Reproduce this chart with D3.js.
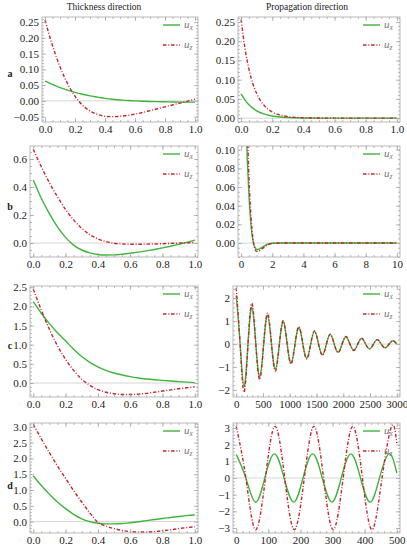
<!DOCTYPE html>
<html><head><meta charset="utf-8">
<script src="https://cdn.jsdelivr.net/npm/d3@7"></script>
<style>body{margin:0;background:#fff}</style>
</head><body>
<svg id="c" width="407" height="550"></svg>
<script>
// ---------------- DATA ----------------
const colTitles = ["Thickness direction", "Propagation direction"];
const rowLabels = ["a", "b", "c", "d"];
const seriesNames = ["x", "z"]; // u_x, u_z

const xThick = [0,0.05,0.1,0.15,0.2,0.25,0.3,0.35,0.4,0.45,0.5,0.55,0.6,0.65,0.7,0.75,0.8,0.85,0.9,0.95,1.0];

// row a
const aThickUx = [0.063,0.052,0.042,0.034,0.027,0.021,0.016,0.012,0.008,0.005,0.003,0.001,0.0,-0.001,-0.002,-0.0025,-0.003,-0.0035,-0.004,-0.004,-0.004];
const aThickUz = [0.257,0.175,0.108,0.055,0.015,-0.014,-0.032,-0.043,-0.049,-0.05,-0.049,-0.046,-0.042,-0.037,-0.031,-0.025,-0.019,-0.013,-0.007,-0.001,0.005];
const xPropA = [0,0.025,0.05,0.075,0.1,0.15,0.2,0.25,0.3,0.35,0.4,0.5,0.6,0.7,0.8,0.9,1.0];
const aPropUx = [0.063,0.047,0.035,0.026,0.019,0.0105,0.0057,0.0031,0.0017,0.0009,0.0005,0.0002,0,0,0,0,0];
const aPropUz = [0.257,0.181,0.128,0.09,0.064,0.032,0.016,0.008,0.004,0.002,0.001,0.0003,0.0001,0,0,0,0];

// row b
const bThickUx = [0.45,0.32,0.21,0.115,0.04,-0.015,-0.05,-0.07,-0.082,-0.086,-0.085,-0.08,-0.073,-0.065,-0.056,-0.046,-0.035,-0.023,-0.01,0.005,0.02];
const bThickUz = [0.67,0.545,0.43,0.33,0.24,0.165,0.105,0.06,0.03,0.01,-0.002,-0.007,-0.009,-0.009,-0.008,-0.007,-0.005,-0.003,-0.001,0.001,0.002];
const xPropB = [0,0.1,0.2,0.3,0.4,0.5,0.6,0.7,0.8,0.9,1.0,1.1,1.2,1.4,1.6,1.8,2.0,2.5,3,4,5,6,7,8,9,10];
const bPropUx = [0.45,0.3,0.2,0.135,0.088,0.052,0.026,0.009,-0.001,-0.005,-0.007,-0.0068,-0.006,-0.004,-0.002,-0.0008,-0.0002,0,0,0,0,0,0,0,0,0];
const bPropUz = [0.67,0.46,0.31,0.2,0.125,0.072,0.037,0.014,0.0,-0.007,-0.009,-0.0088,-0.008,-0.0055,-0.003,-0.0013,-0.0004,0,0,0,0,0,0,0,0,0];

// row c
const cThickUx = [2.12,1.82,1.55,1.31,1.1,0.88,0.69,0.54,0.42,0.33,0.26,0.21,0.165,0.13,0.105,0.085,0.068,0.052,0.037,0.022,0.01];
const cThickUz = [2.45,1.9,1.4,0.97,0.62,0.33,0.1,-0.06,-0.17,-0.24,-0.28,-0.3,-0.3,-0.29,-0.27,-0.24,-0.21,-0.18,-0.15,-0.125,-0.1];
const xPropC = [0,73,146,220,293,366,440,513,586,659,733,806,879,952,1026,1099,1172,1245,1319,1392,1465,1538,1612,1685,1758,1831,1905,1978,2051,2124,2198,2271,2344,2417,2491,2564,2637,2710,2784,2857,2930,3000];
const cPropUx = [2.12,0,-1.85,0,1.6,0,-1.42,0,1.25,0,-1.1,0,0.97,0,-0.83,0,0.72,0,-0.62,0,0.55,0,-0.47,0,0.42,0,-0.36,0,0.32,0,-0.27,0,0.24,0,-0.21,0,0.19,0,-0.16,0,0.14,0.0];
const cPropUz = [2.45,0,-2.1,0,1.78,0,-1.55,0,1.35,0,-1.18,0,1.02,0,-0.87,0,0.75,0,-0.65,0,0.57,0,-0.49,0,0.43,0,-0.37,0,0.33,0,-0.28,0,0.25,0,-0.21,0,0.19,0,-0.17,0,0.14,0.0];

// row d
const dThickUx = [1.45,1.14,0.87,0.62,0.41,0.23,0.09,0.0,-0.05,-0.07,-0.07,-0.06,-0.035,-0.005,0.03,0.065,0.1,0.13,0.16,0.19,0.21];
const dThickUz = [3.08,2.62,2.18,1.76,1.37,0.98,0.62,0.28,-0.02,-0.14,-0.22,-0.28,-0.315,-0.33,-0.33,-0.315,-0.29,-0.26,-0.22,-0.19,-0.16];
const xPropDux = [0,30,60,89,119,149,179,208,238,268,298,327,357,387,417,446,476,500];
const dPropUx = [1.42,0,-1.45,0,1.45,0,-1.45,0,1.45,0,-1.45,0,1.45,0,-1.45,0,1.45,0.3];
const xPropDuz = [0,30,60,91,121,151,181,212,242,272,302,333,363,393,423,454,484,500];
const dPropUz = [3.1,0,-3.1,0,3.1,0,-3.1,0,3.1,0,-3.1,0,3.1,0,-3.1,0,3.1,2.1];

// tick labels
const thickXTicks = [0,0.2,0.4,0.6,0.8,1.0];
const propXTicksA = [0,0.2,0.4,0.6,0.8,1.0];
const propXTicksB = [0,2,4,6,8,10];
const propXTicksC = [0,500,1000,1500,2000,2500,3000];
const propXTicksD = [0,100,200,300,400,500];
const aLeftYTicks = [-0.05,0,0.05,0.1,0.15,0.2,0.25];
const aRightYTicks = [0,0.05,0.1,0.15,0.2,0.25];
const bLeftYTicks = [0,0.2,0.4,0.6];
const bRightYTicks = [0,0.02,0.04,0.06,0.08,0.1];
const cLeftYTicks = [0,0.5,1,1.5,2,2.5];
const cRightYTicks = [-2,-1,0,1,2];
const dLeftYTicks = [0,0.5,1,1.5,2,2.5,3];
const dRightYTicks = [-3,-2,-1,0,1,2,3];

// ---------------- DRAWING ----------------
const svg = d3.select("#c");
const FONT = "'Liberation Serif','Times New Roman',serif";
const GREEN = "#3db53d", RED = "#c8252a", FRAME = "#a9a9a9";
let clipN = 0;

function zip(xs, ys){ return xs.map((v,i)=>[v, ys[i]]); }

function panel(p){
  const x = d3.scaleLinear().domain(p.xDom).range([p.left, p.right]);
  const y = d3.scaleLinear().domain(p.yDom).range([p.bottom, p.top]);
  const g = svg.append("g");
  const id = "clip" + (clipN++);
  svg.append("clipPath").attr("id", id).append("rect")
    .attr("x", p.left).attr("y", p.top).attr("width", p.right - p.left).attr("height", p.bottom - p.top);

  // zero axis line
  g.append("line").attr("x1", p.left).attr("x2", p.right)
    .attr("y1", y(0)).attr("y2", y(0)).attr("stroke", "#d6d6d6").attr("stroke-width", 1);

  const line = d3.line().x(d=>x(d[0])).y(d=>y(d[1])).curve(p.curve || d3.curveMonotoneX);
  const cg = g.append("g").attr("clip-path", `url(#${id})`);
  cg.append("path").attr("d", line(p.ux)).attr("fill","none").attr("stroke", GREEN).attr("stroke-width", 1.4);
  cg.append("path").attr("d", line(p.uz)).attr("fill","none").attr("stroke", RED).attr("stroke-width", 1.4)
    .attr("stroke-dasharray", "3.5,1.8,1,1.8");

  // minor ticks
  function minors(ticks, dom){
    const step = ticks[1]-ticks[0];
    const first = String(Math.round(step*1e6)/1e6).replace(/[0.]/g,"")[0];
    const m = first === "2" ? step/4 : step/5;
    const out = [];
    const s = Math.ceil((dom[0]-1e-9)/m), e = Math.floor((dom[1]+1e-9)/m);
    for (let k = s; k <= e; k++) out.push(k*m);
    return out;
  }
  const xm = minors(p.xTicks, p.xDom), ym = minors(p.yTicks, p.yDom);

  function axisG(axis, tx, ty){
    const a = g.append("g").attr("transform", `translate(${tx},${ty})`).call(axis);
    a.select(".domain").remove();
    a.selectAll("line").attr("stroke", FRAME).attr("stroke-width", 0.8);
    a.selectAll("text").attr("font-family", FONT).attr("font-size", 11).attr("fill", "#222");
    return a;
  }
  // bottom with labels
  axisG(d3.axisBottom(x).tickValues(p.xTicks).tickFormat(d3.format(p.xFmt)).tickSizeInner(-4).tickSizeOuter(0).tickPadding(3), 0, p.bottom);
  axisG(d3.axisBottom(x).tickValues(xm).tickFormat("").tickSizeInner(-2).tickSizeOuter(0), 0, p.bottom);
  axisG(d3.axisTop(x).tickValues(p.xTicks).tickFormat("").tickSizeInner(-4).tickSizeOuter(0), 0, p.top);
  axisG(d3.axisTop(x).tickValues(xm).tickFormat("").tickSizeInner(-2).tickSizeOuter(0), 0, p.top);
  axisG(d3.axisLeft(y).tickValues(p.yTicks).tickFormat(d3.format(p.yFmt)).tickSizeInner(-4).tickSizeOuter(0).tickPadding(3), p.left, 0);
  axisG(d3.axisLeft(y).tickValues(ym).tickFormat("").tickSizeInner(-2).tickSizeOuter(0), p.left, 0);
  axisG(d3.axisRight(y).tickValues(p.yTicks).tickFormat("").tickSizeInner(-4).tickSizeOuter(0), p.right, 0);
  axisG(d3.axisRight(y).tickValues(ym).tickFormat("").tickSizeInner(-2).tickSizeOuter(0), p.right, 0);

  // frame
  g.append("rect").attr("x", p.left).attr("y", p.top).attr("width", p.right-p.left).attr("height", p.bottom-p.top)
    .attr("fill","none").attr("stroke", FRAME).attr("stroke-width", 0.8);

  // legend
  const lx = p.legendX;
  [[GREEN, null, seriesNames[0], 8], [RED, "3.5,1.8,1,1.8", seriesNames[1], 28]].forEach(([col, dash, name, dy]) => {
    const ly = p.top + dy;
    const l = g.append("line").attr("x1", lx).attr("x2", lx+17).attr("y1", ly).attr("y2", ly)
      .attr("stroke", col).attr("stroke-width", 1.4);
    if (dash) l.attr("stroke-dasharray", dash);
    const t = g.append("text").attr("x", lx+21).attr("y", ly+3).attr("font-family", FONT).attr("fill", "#777");
    t.append("tspan").attr("font-size", 11).attr("font-style", "italic").text("u");
    t.append("tspan").attr("font-size", 7.5).attr("font-style", "italic").attr("dy", 2).text(name);
  });
}

const rows = [
  {top:17, bottom:122}, {top:146, bottom:257}, {top:286, bottom:397}, {top:423, bottom:533}
];

const panels = [
  // row a
  {left:42, right:198, ...rows[0], xDom:[-0.02,1.02], yDom:[-0.067,0.266], xTicks:thickXTicks, xFmt:".1f", yTicks:aLeftYTicks, yFmt:".2f",
   ux: zip(xThick, aThickUx), uz: zip(xThick, aThickUz), legendX:163},
  {left:238, right:400, ...rows[0], xDom:[-0.02,1.02], yDom:[-0.01,0.263], xTicks:propXTicksA, xFmt:".1f", yTicks:aRightYTicks, yFmt:".2f",
   ux: zip(xPropA, aPropUx), uz: zip(xPropA, aPropUz), legendX:363},
  // row b
  {left:30, right:198, ...rows[1], xDom:[-0.02,1.02], yDom:[-0.1,0.693], xTicks:thickXTicks, xFmt:".1f", yTicks:bLeftYTicks, yFmt:".1f",
   ux: zip(xThick, bThickUx), uz: zip(xThick, bThickUz), legendX:163},
  {left:238, right:400, ...rows[1], xDom:[-0.2,10.2], yDom:[-0.015,0.104], xTicks:propXTicksB, xFmt:"d", yTicks:bRightYTicks, yFmt:".2f",
   ux: zip(xPropB, bPropUx), uz: zip(xPropB, bPropUz), legendX:363},
  // row c
  {left:30, right:198, ...rows[2], xDom:[-0.02,1.02], yDom:[-0.365,2.53], xTicks:thickXTicks, xFmt:".1f", yTicks:cLeftYTicks, yFmt:".1f",
   ux: zip(xThick, cThickUx), uz: zip(xThick, cThickUz), legendX:163},
  {left:233, right:400, ...rows[2], xDom:[-60,3060], yDom:[-2.31,2.53], xTicks:propXTicksC, xFmt:"d", yTicks:cRightYTicks, yFmt:"d",
   ux: zip(xPropC, cPropUx), uz: zip(xPropC, cPropUz), legendX:363, curve:d3.curveNatural},
  // row d
  {left:30, right:198, ...rows[3], xDom:[-0.02,1.02], yDom:[-0.36,3.12], xTicks:thickXTicks, xFmt:".1f", yTicks:dLeftYTicks, yFmt:".1f",
   ux: zip(xThick, dThickUx), uz: zip(xThick, dThickUz), legendX:163},
  {left:233, right:400, ...rows[3], xDom:[-10,510], yDom:[-3.3,3.3], xTicks:propXTicksD, xFmt:"d", yTicks:dRightYTicks, yFmt:"d",
   ux: zip(xPropDux, dPropUx), uz: zip(xPropDuz, dPropUz), legendX:363, curve:d3.curveNatural}
];
panels.forEach(panel);

// column titles
[[104, colTitles[0]], [307, colTitles[1]]].forEach(([cx, t]) => {
  svg.append("text").attr("x", cx).attr("y", 9.5).attr("text-anchor", "middle")
    .attr("font-family", FONT).attr("font-size", 9.5).attr("fill", "#222").text(t);
});
// row labels
[[73, rowLabels[0]], [206, rowLabels[1]], [345, rowLabels[2]], [485, rowLabels[3]]].forEach(([cy, t]) => {
  svg.append("text").attr("x", 10).attr("y", cy + 3.5).attr("text-anchor", "middle")
    .attr("font-family", FONT).attr("font-size", 10).attr("font-weight", "bold").attr("fill", "#222").text(t);
});
</script>
</body></html>
